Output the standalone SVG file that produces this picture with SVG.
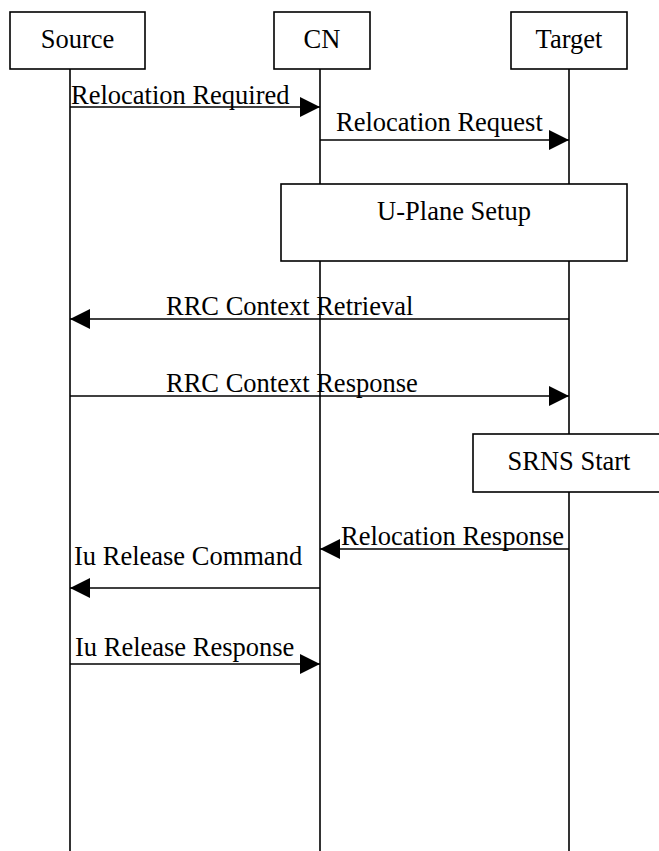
<svg xmlns="http://www.w3.org/2000/svg" width="659" height="851" viewBox="0 0 659 851">
<style>
.box{fill:#fff;stroke:#000;stroke-width:1.6}
.life{stroke:#000;stroke-width:1.6;fill:none}
.msg{stroke:#000;stroke-width:1.6;fill:none;marker-end:url(#ah)}
text{font-family:"Liberation Serif","Times New Roman",serif;font-size:26.5px;fill:#000}
.c{text-anchor:middle}
</style>
<defs>
<marker id="ah" markerUnits="userSpaceOnUse" markerWidth="20" markerHeight="20" refX="20" refY="10" orient="auto" viewBox="0 0 20 20">
<path d="M0,0 L20,10 L0,20 z" fill="#000"/>
</marker>
</defs>
<g id="lifelines">
<line class="life" x1="70" y1="69" x2="70" y2="851"/>
<line class="life" x1="320" y1="69" x2="320" y2="851"/>
<line class="life" x1="569" y1="69" x2="569" y2="851"/>
</g>
<g id="source"><rect class="box" x="10" y="12" width="135" height="57"/><text class="c" x="77.5" y="48">Source</text></g>
<g id="cn"><rect class="box" x="274" y="12" width="96" height="57"/><text class="c" x="322" y="48">CN</text></g>
<g id="target"><rect class="box" x="511" y="12" width="116" height="57"/><text class="c" x="569" y="48">Target</text></g>
<g id="uplane"><rect class="box" x="281" y="184" width="346" height="77"/><text class="c" x="454" y="220">U-Plane Setup</text></g>
<g id="srns"><rect class="box" x="473" y="434" width="200" height="58"/><text class="c" x="569" y="470">SRNS Start</text></g>
<g id="connectors">
<line class="msg" x1="70" y1="107" x2="320" y2="107"/>
<line class="msg" x1="320" y1="140" x2="569" y2="140"/>
<line class="msg" x1="569" y1="319" x2="70" y2="319"/>
<line class="msg" x1="70" y1="396" x2="569" y2="396"/>
<line class="msg" x1="569" y1="549" x2="320" y2="549"/>
<line class="msg" x1="320" y1="588" x2="70" y2="588"/>
<line class="msg" x1="70" y1="664" x2="320" y2="664"/>
</g>
<g id="labels">
<text x="71" y="104">Relocation Required</text>
<text x="336" y="131">Relocation Request</text>
<text x="166" y="315">RRC Context Retrieval</text>
<text x="166" y="392">RRC Context Response</text>
<text x="341" y="545">Relocation Response</text>
<text x="74" y="565">Iu Release Command</text>
<text x="75" y="656">Iu Release Response</text>
</g>
</svg>
